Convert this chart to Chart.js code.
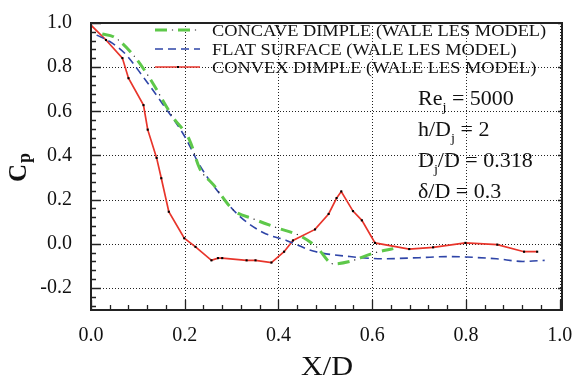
<!DOCTYPE html>
<html>
<head>
<meta charset="utf-8">
<script src="https://cdn.jsdelivr.net/npm/chart.js@4"></script>
<style>
  html, body { margin: 0; background: #fff; }
  #wrap { width: 579px; height: 381px; }
</style>
</head>
<body>
<div id="wrap"><canvas id="cpChart" width="579" height="381"></canvas></div>
<script>
// Wall pressure coefficient Cp vs X/D for the three target surfaces

const convexX = [0, 0.032, 0.067, 0.08, 0.112, 0.121, 0.14, 0.15, 0.166, 0.199, 0.223, 0.257, 0.271, 0.28, 0.332, 0.351, 0.385, 0.412, 0.431, 0.478, 0.507, 0.524, 0.534, 0.559, 0.578, 0.606, 0.679, 0.73, 0.799, 0.867, 0.924, 0.952];
const convexY = [0.99, 0.923, 0.841, 0.75, 0.628, 0.517, 0.389, 0.297, 0.145, 0.025, -0.014, -0.075, -0.065, -0.065, -0.075, -0.075, -0.085, -0.036, 0.015, 0.065, 0.135, 0.207, 0.237, 0.148, 0.106, 0.004, -0.024, -0.016, 0.004, -0.004, -0.036, -0.036];

const flatX = [0.012, 0.04, 0.072, 0.112, 0.154, 0.2, 0.232, 0.275, 0.318, 0.367, 0.417, 0.474, 0.552, 0.623, 0.7, 0.765, 0.8, 0.865, 0.922, 0.968];
const flatY = [0.945, 0.916, 0.863, 0.754, 0.63, 0.486, 0.355, 0.225, 0.123, 0.051, 0.015, -0.033, -0.058, -0.068, -0.063, -0.058, -0.06, -0.068, -0.08, -0.075];

const concaveX = [0.024, 0.048, 0.087, 0.122, 0.175, 0.21, 0.232, 0.261, 0.304, 0.346, 0.396, 0.446, 0.481, 0.517, 0.552, 0.602, 0.645];
const concaveY = [0.95, 0.938, 0.863, 0.761, 0.573, 0.471, 0.341, 0.268, 0.152, 0.113, 0.073, 0.036, -0.014, -0.091, -0.08, -0.043, -0.022];

const xTicks = [0, 0.2, 0.4, 0.6, 0.8, 1.0];
const yTicks = [-0.2, 0, 0.2, 0.4, 0.6, 0.8, 1.0];

const caseLabels = [
    'CONCAVE DIMPLE (WALE LES MODEL)',
    'FLAT SURFACE (WALE LES MODEL)',
    'CONVEX DIMPLE (WALE LES MODEL)'
];

const SERIF = '"Liberation Serif", "Times New Roman", serif';
const GREEN = '#5ec84a';
const BLUE = '#2f45a8';
const RED = '#e8352b';

// dash-dot: green dashes with a small black dot in every gap
const DASH_GREEN = [12, 11];
const DASH_DOT = [1.2, 21.8];
const DOT_OFFSET = 6.1;

function toPoints(xs, ys) {
    return xs.map((x, i) => ({ x: x, y: ys[i] }));
}

// text with a subscript piece, slightly widened like the printed figure
function drawRich(ctx, parts, x, y, size) {
    ctx.save();
    ctx.translate(x, y);
    ctx.scale(1.1, 1);
    let cx = 0;
    parts.forEach(p => {
        const fs = p.sub ? size * 0.65 : size;
        ctx.font = fs + 'px ' + SERIF;
        ctx.fillText(p.t, cx, p.sub ? size * 0.32 : 0);
        cx += ctx.measureText(p.t).width;
    });
    ctx.restore();
}

// dotted grid at the major ticks, under the curves
const dottedGrid = {
    id: 'dottedGrid',
    beforeDatasetsDraw(chart) {
        const ctx = chart.ctx;
        const { left, right, top, bottom } = chart.chartArea;
        ctx.save();
        ctx.strokeStyle = '#222';
        ctx.lineWidth = 1;
        ctx.setLineDash([1, 2]);
        ctx.beginPath();
        chart.scales.x.ticks.forEach(t => {
            const px = Math.round(chart.scales.x.getPixelForValue(t.value)) + 0.5;
            ctx.moveTo(px, top);
            ctx.lineTo(px, bottom);
        });
        chart.scales.y.ticks.forEach(t => {
            const py = Math.round(chart.scales.y.getPixelForValue(t.value)) + 0.5;
            ctx.moveTo(left, py);
            ctx.lineTo(right, py);
        });
        ctx.stroke();
        ctx.restore();
    }
};

const decor = {
    id: 'decor',
    afterDraw(chart) {
        const ctx = chart.ctx;
        const { left, right, top, bottom } = chart.chartArea;
        const xs = chart.scales.x;
        const ys = chart.scales.y;

        ctx.save();
        // tick marks, pointing into the plot
        ctx.strokeStyle = '#222';
        ctx.lineWidth = 1.3;
        ctx.beginPath();
        for (let k = 0; k <= 25; k++) {
            const px = Math.round(xs.getPixelForValue(k * 0.04)) + 0.5;
            const len = k % 5 === 0 ? 10 : 5;
            ctx.moveTo(px, bottom);
            ctx.lineTo(px, bottom - len);
        }
        for (let k = -7; k <= 25; k++) {
            const py = Math.round(ys.getPixelForValue(k * 0.04)) + 0.5;
            const len = k % 5 === 0 ? 10 : 5;
            ctx.moveTo(left, py);
            ctx.lineTo(left + len, py);
            if (k % 5 === 0) {
                ctx.moveTo(right, py);
                ctx.lineTo(right - 4, py);
            }
        }
        ctx.stroke();

        // frame
        ctx.lineWidth = 2;
        ctx.strokeRect(left, top, right - left, bottom - top);

        // legend
        const rowY = [30, 49, 67];
        const x0 = 155, x1 = 200;
        ctx.lineCap = 'butt';

        ctx.strokeStyle = GREEN;
        ctx.lineWidth = 3;
        ctx.setLineDash(DASH_GREEN);
        ctx.beginPath(); ctx.moveTo(x0, rowY[0]); ctx.lineTo(x1, rowY[0]); ctx.stroke();
        ctx.strokeStyle = '#222';
        ctx.lineWidth = 1.2;
        ctx.setLineDash(DASH_DOT);
        ctx.lineDashOffset = DOT_OFFSET;
        ctx.beginPath(); ctx.moveTo(x0, rowY[0]); ctx.lineTo(x1, rowY[0]); ctx.stroke();
        ctx.lineDashOffset = 0;

        ctx.strokeStyle = BLUE;
        ctx.lineWidth = 1.6;
        ctx.setLineDash([8, 5]);
        ctx.beginPath(); ctx.moveTo(x0, rowY[1]); ctx.lineTo(x1, rowY[1]); ctx.stroke();

        ctx.strokeStyle = RED;
        ctx.setLineDash([]);
        ctx.beginPath(); ctx.moveTo(x0, rowY[2]); ctx.lineTo(x1, rowY[2]); ctx.stroke();
        ctx.fillStyle = '#000';
        ctx.fillRect(177, rowY[2] - 1, 2, 2);

        ctx.fillStyle = '#111';
        ctx.textBaseline = 'alphabetic';
        ctx.textAlign = 'left';
        caseLabels.forEach((label, i) => {
            ctx.save();
            ctx.translate(212, rowY[i] + 6);
            ctx.scale(1.08, 1);
            ctx.font = '17px ' + SERIF;
            ctx.fillText(label, 0, 0);
            ctx.restore();
        });

        // flow parameters
        drawRich(ctx, [{ t: 'Re' }, { t: 'j', sub: true }, { t: ' = 5000' }], 418, 105, 20);
        drawRich(ctx, [{ t: 'h/D' }, { t: 'j', sub: true }, { t: ' = 2' }], 418, 136, 20);
        drawRich(ctx, [{ t: 'D' }, { t: 'j', sub: true }, { t: '/D = 0.318' }], 418, 167, 20);
        drawRich(ctx, [{ t: '\u03b4/D = 0.3' }], 418, 198, 20);

        // axis titles
        ctx.save();
        ctx.translate(327, 375);
        ctx.scale(1.12, 1);
        ctx.textAlign = 'center';
        ctx.font = '27px ' + SERIF;
        ctx.fillText('X/D', 0, 0);
        ctx.restore();

        ctx.save();
        ctx.translate(26, 182);
        ctx.rotate(-Math.PI / 2);
        ctx.font = 'bold 25px ' + SERIF;
        ctx.fillText('C', 0, 0);
        const cw = ctx.measureText('C').width;
        ctx.font = 'bold 18px ' + SERIF;
        ctx.fillText('p', cw + 1, 4);
        ctx.restore();

        ctx.restore();
    }
};

new Chart(document.getElementById('cpChart'), {
    type: 'line',
    data: {
        datasets: [
            {
                label: caseLabels[0],
                data: toPoints(concaveX, concaveY),
                borderColor: GREEN,
                borderWidth: 3,
                borderDash: DASH_GREEN,
                cubicInterpolationMode: 'monotone',
                pointRadius: 0
            },
            {
                label: caseLabels[0] + ' dots',
                data: toPoints(concaveX, concaveY),
                borderColor: '#222',
                borderWidth: 1.2,
                borderDash: DASH_DOT,
                borderDashOffset: DOT_OFFSET,
                cubicInterpolationMode: 'monotone',
                pointRadius: 0
            },
            {
                label: caseLabels[1],
                data: toPoints(flatX, flatY),
                borderColor: BLUE,
                borderWidth: 1.6,
                borderDash: [8, 5],
                cubicInterpolationMode: 'monotone',
                pointRadius: 0
            },
            {
                label: caseLabels[2],
                data: toPoints(convexX, convexY),
                borderColor: RED,
                borderWidth: 1.7,
                tension: 0,
                pointStyle: 'rect',
                pointRadius: 1.5,
                pointBackgroundColor: '#000',
                pointBorderWidth: 0
            }
        ]
    },
    options: {
        responsive: false,
        animation: false,
        layout: { padding: { top: 12, right: 17, left: 0, bottom: 0 } },
        plugins: {
            legend: { display: false },
            tooltip: { enabled: false }
        },
        scales: {
            x: {
                type: 'linear',
                min: 0,
                max: 1.005,
                afterBuildTicks: s => { s.ticks = xTicks.map(v => ({ value: v })); },
                afterFit: s => { s.height = 71; },
                ticks: {
                    font: { family: SERIF, size: 20 },
                    color: '#111',
                    padding: 6,
                    maxRotation: 0,
                    autoSkip: false,
                    callback: v => v.toFixed(1)
                },
                grid: { display: false },
                border: { display: false }
            },
            y: {
                type: 'linear',
                min: -0.3,
                max: 1.0,
                afterBuildTicks: s => { s.ticks = yTicks.map(v => ({ value: v })); },
                afterFit: s => { s.width = 91; },
                ticks: {
                    font: { family: SERIF, size: 20 },
                    color: '#111',
                    padding: 11,
                    autoSkip: false,
                    callback: v => v.toFixed(1)
                },
                grid: { display: false },
                border: { display: false }
            }
        }
    },
    plugins: [dottedGrid, decor]
});
</script>
</body>
</html>
